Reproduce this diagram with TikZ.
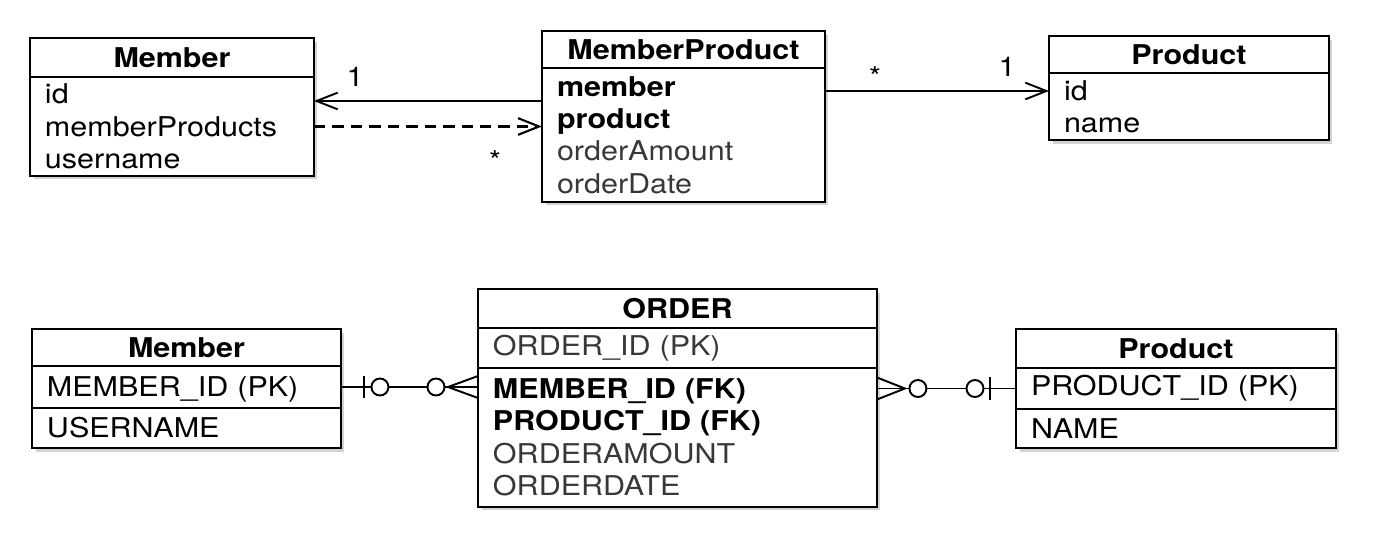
\documentclass[tikz,border=0pt]{standalone}
\usepackage{fontspec}
\setmainfont[FakeStretch=1.12]{TeX Gyre Heros}
\usetikzlibrary{shapes}
\usetikzlibrary{arrows.meta}
\usetikzlibrary{shadows}
\usetikzlibrary{positioning}
\colorlet{duenn}{black!78}
\tikzset{kopf/.style = {
    shape=rectangle, draw=black, line width=1.3pt, fill=white,
    outer sep=0pt, inner sep=0pt, anchor=north west,
    font=\bfseries\fontsize{15.5}{18.4}\selectfont,
    drop shadow={shadow xshift=2pt, shadow yshift=-2pt, opacity=0.35}
}}
\tikzset{rumpf/.style = {
    shape=rectangle, draw=black, line width=1.3pt, fill=white,
    outer sep=0pt, inner xsep=0.3cm, inner ysep=0pt, align=left,
    drop shadow={shadow xshift=2pt, shadow yshift=-2pt, opacity=0.35}
}}
\tikzset{pfeil/.style = {
    line width=1.1pt, -{Straight Barb[length=12pt,width=9.5pt]}
}}
\tikzset{strich/.style = {pfeil, line width=1.2pt, dash pattern=on 6.5pt off 4pt}}
\tikzset{linie/.style = {line width=1.1pt}}

\begin{document}
\begin{tikzpicture}[x=0.02cm, y=-0.02cm, font=\fontsize{15.5}{18.4}\selectfont]
  \useasboundingbox (0,0) rectangle (1384,556);

  % Klassen
  \node (mkopf) at (30,38) [kopf, minimum width=5.68cm, minimum height=0.78cm] {Member};
  \node (mrumpf) [rumpf, below=0pt of mkopf, text width=5.08cm, minimum height=1.98cm]
    {id\\memberProducts\\username};
  \node (mpkopf) at (542,31) [kopf, minimum width=5.66cm, minimum height=0.74cm] {MemberProduct};
  \node (mprumpf) [rumpf, below=0pt of mpkopf, text width=5.06cm, minimum height=2.68cm]
    {\textbf{member}\\\textbf{product}\\{\color{duenn}orderAmount}\\{\color{duenn}orderDate}};
  \node (pkopf) at (1049,36) [kopf, minimum width=5.6cm, minimum height=0.74cm] {Product};
  \node (prumpf) [rumpf, below=0pt of pkopf, text width=5cm, minimum height=1.34cm]
    {id\\name};

  \path (mprumpf.north west) ++(0,33) coordinate (a1);
  \path (mprumpf.north east) ++(0,23) coordinate (a2);
  \draw[pfeil] (a1) -- (mrumpf.east |- a1);
  \draw[strich] (mrumpf.east) -- (mprumpf.west |- mrumpf.east);
  \draw[pfeil] (a2) -- (prumpf.west |- a2);
  \node (n1) at (355,77) {1};
  \node (n2) at (495,161) {*};
  \node (n3) at (875,77) {*};
  \node (n4) at (1007,67) {1};

  % Tabellen
  \node (emkopf) at (32,329) [kopf, minimum width=6.18cm, minimum height=0.74cm] {Member};
  \node (empk) [rumpf, below=0pt of emkopf, text width=5.58cm, minimum height=0.84cm,
    text height=1.2em, text depth=0.15em] {MEMBER\_ID (PK)};
  \node (emrest) [rumpf, below=0pt of empk, text width=5.58cm, minimum height=0.8cm]
    {USERNAME};
  \node (okopf) at (478,289) [kopf, minimum width=7.98cm, minimum height=0.78cm] {ORDER};
  \node (opk) [rumpf, below=0pt of okopf, text width=7.38cm, minimum height=0.8cm]
    {\color{duenn}ORDER\_ID (PK)};
  \node (ofk) [rumpf, below=0pt of opk, text width=7.38cm, minimum height=2.78cm]
    {\textbf{MEMBER\_ID (FK)}\\\textbf{PRODUCT\_ID (FK)}\\{\color{duenn}ORDERAMOUNT}\\{\color{duenn}ORDERDATE}};
  \node (epkopf) at (1016,329) [kopf, minimum width=6.4cm, minimum height=0.78cm] {Product};
  \node (eppk) [rumpf, below=0pt of epkopf, text width=5.8cm, minimum height=0.82cm]
    {PRODUCT\_ID (PK)};
  \node (eprest) [rumpf, below=0pt of eppk, text width=5.8cm, minimum height=0.78cm]
    {NAME};

  \coordinate (l1) at (empk.east);
  \coordinate (l2) at (ofk.west |- empk.east);
  \coordinate (r1) at (ofk.east |- eppk.west);
  \coordinate (r2) at (eppk.west);
  \draw[linie] (l1) -- (l2);
  \draw[linie] (r1) -- (r2);
  \draw[linie] (l1) ++(23,-11) -- ++(0,22);
  \draw[linie, fill=white] (l1) ++(39,0) circle [radius=8.5];
  \draw[linie, fill=white] (l2) ++(-42,0) circle [radius=8.5];
  \draw[linie] (l2) ++(0,-11) -- ++(-30,11) -- ++(30,11);
  \draw[linie] (r2) ++(-26,-11) -- ++(0,22);
  \draw[linie, fill=white] (r2) ++(-41,0) circle [radius=8.5];
  \draw[linie, fill=white] (r1) ++(41,0) circle [radius=8.5];
  \draw[linie] (r1) ++(0,-11) -- ++(28,11) -- ++(-28,11);
\end{tikzpicture}
\end{document}
